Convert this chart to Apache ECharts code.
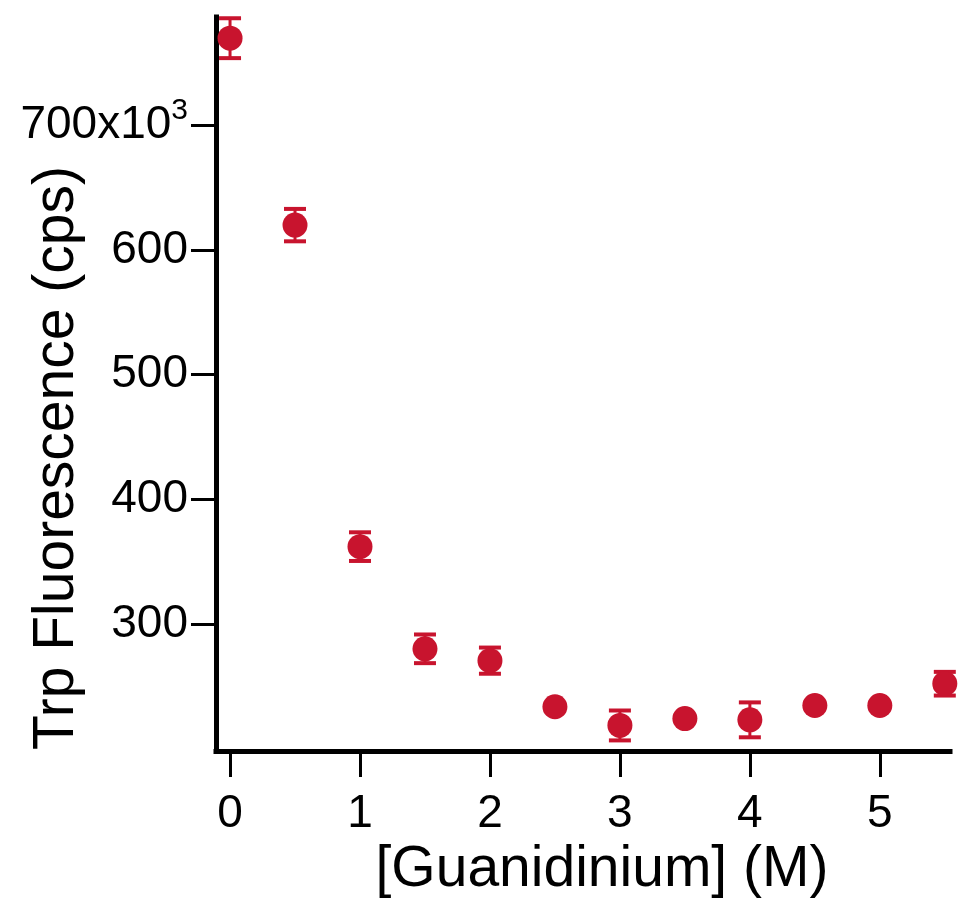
<!DOCTYPE html>
<html>
<head>
<meta charset="utf-8">
<title>Trp Fluorescence vs Guanidinium</title>
<script src="https://cdn.jsdelivr.net/npm/echarts@6/dist/echarts.min.js"></script>
<style>
  html, body { margin: 0; padding: 0; background: #ffffff; }
  #chart { width: 964px; height: 903px; }
</style>
</head>
<body>
<div id="chart"></div>
<script>
// Guanidinium concentration (M)
const concentration = [0, 0.5, 1, 1.5, 2, 2.5, 3, 3.5, 4, 4.5, 5, 5.5];
// Trp fluorescence (x10^3 cps)
const fluorescence = [770, 620, 362, 280, 270.5, 233.5, 218.5, 224, 223, 234.5, 234.5, 252];
// Error (x10^3 cps, +/-)
const fluorescenceErr = [16, 13, 11.5, 11.5, 10.5, 3, 12, 3, 14, 3, 3, 9.5];

const xTicks = [0, 1, 2, 3, 4, 5];
const yTicks = [300, 400, 500, 600, 700];

const FONT = '"Liberation Sans", Arial, Helvetica, sans-serif';
const RED = '#c8142e';

const points = concentration.map((c, i) => [c, fluorescence[i]]);
const bars = concentration.map((c, i) => [c, fluorescence[i] - fluorescenceErr[i], fluorescence[i] + fluorescenceErr[i]]);

const chart = echarts.init(document.getElementById('chart'), null, { renderer: 'canvas' });

chart.setOption({
  backgroundColor: '#ffffff',
  animation: false,
  grid: { left: 216, right: 14, top: 17, bottom: 152, containLabel: false },
  xAxis: {
    type: 'value',
    min: -0.108,
    max: 5.54,
    splitLine: { show: false },
    axisLine: { show: true, onZero: false, lineStyle: { color: '#000', width: 5, cap: 'square' } },
    axisTick: { show: true, inside: false, length: 26, customValues: xTicks, lineStyle: { color: '#000', width: 3 } },
    axisLabel: { customValues: xTicks, margin: 40, color: '#000', fontSize: 46, fontFamily: FONT }
  },
  yAxis: {
    type: 'value',
    min: 198,
    max: 787,
    splitLine: { show: false },
    axisLine: { show: true, onZero: false, lineStyle: { color: '#000', width: 5, cap: 'square' } },
    axisTick: { show: true, inside: false, length: 25, customValues: yTicks, lineStyle: { color: '#000', width: 3 } },
    axisLabel: {
      customValues: yTicks,
      margin: 28,
      color: '#000',
      fontSize: 46,
      fontFamily: FONT,
      formatter: v => (v === 700 ? '{b|700x10}{s|3}' : String(v)),
      rich: {
        b: { fontSize: 46, fontFamily: FONT, color: '#000' },
        // exponent raised above the baseline
        s: { fontSize: 30, padding: [0, 0, 30, 0], fontFamily: FONT, color: '#000' }
      }
    }
  },
  series: [
    {
      type: 'custom',
      name: 'error',
      data: bars,
      z: 2,
      renderItem: function (params, api) {
        const x = api.value(0);
        const lo = api.coord([x, api.value(1)]);
        const hi = api.coord([x, api.value(2)]);
        const half = 11;
        return {
          type: 'group',
          children: [
            { type: 'line', shape: { x1: lo[0], y1: lo[1], x2: hi[0], y2: hi[1] }, style: { stroke: RED, lineWidth: 3 } },
            { type: 'line', shape: { x1: lo[0] - half, y1: lo[1], x2: lo[0] + half, y2: lo[1] }, style: { stroke: RED, lineWidth: 4 } },
            { type: 'line', shape: { x1: hi[0] - half, y1: hi[1], x2: hi[0] + half, y2: hi[1] }, style: { stroke: RED, lineWidth: 4 } }
          ]
        };
      }
    },
    {
      type: 'scatter',
      name: 'Trp Fluorescence',
      data: points,
      symbol: 'circle',
      symbolSize: 25,
      z: 3,
      itemStyle: { color: RED, opacity: 1 }
    }
  ],
  graphic: [
    {
      type: 'text',
      x: 57,
      y: 458,
      rotation: Math.PI / 2,
      style: {
        text: 'Trp Fluorescence (cps)',
        fontSize: 57,
        fontFamily: FONT,
        fill: '#000',
        align: 'center',
        verticalAlign: 'middle'
      }
    },
    {
      type: 'text',
      x: 602,
      y: 870,
      style: {
        text: '[Guanidinium] (M)',
        fontSize: 57,
        fontFamily: FONT,
        fill: '#000',
        align: 'center',
        verticalAlign: 'middle'
      }
    }
  ]
});
</script>
</body>
</html>
